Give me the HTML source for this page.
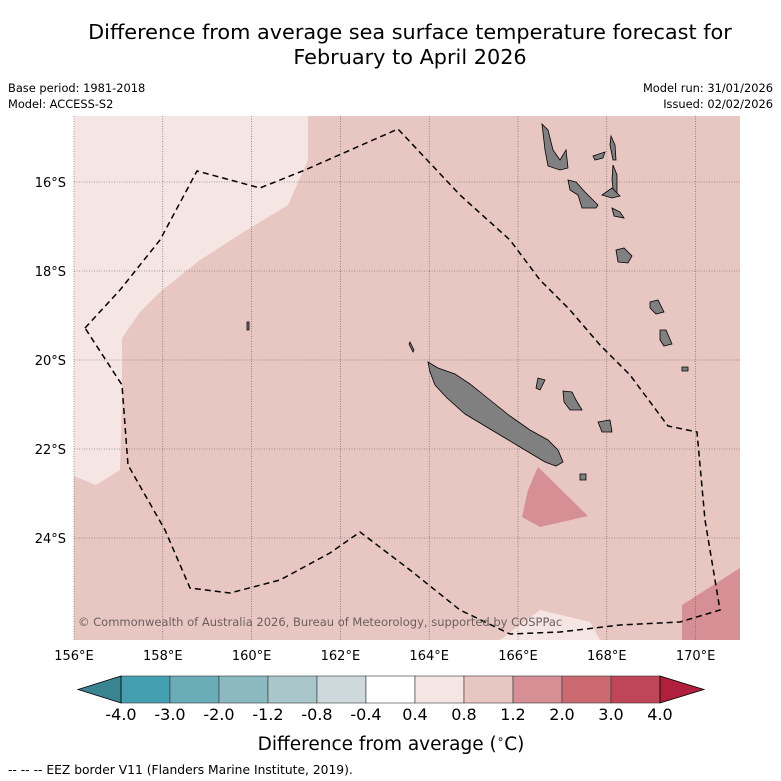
<!DOCTYPE html>
<html><head><meta charset="utf-8"><style>
body{margin:0;background:#fff;font-family:"Liberation Sans","DejaVu Sans",sans-serif}
#wrap{position:relative;width:781px;height:781px;overflow:hidden}
.t{position:absolute;color:#000}
</style></head><body>
<div id="wrap">
<div class="t" style="left:0;width:820px;top:20px;text-align:center;font-size:20.8px;line-height:25px;font-family:'DejaVu Sans',sans-serif">Difference from average sea surface temperature forecast for<br>February to April 2026</div>
<div class="t" style="left:8px;top:80px;font-size:11.4px;line-height:16px;font-family:'DejaVu Sans',sans-serif">Base period: 1981-2018<br>Model: ACCESS-S2</div>
<div class="t" style="right:8px;top:80px;font-size:11.4px;line-height:16px;text-align:right;font-family:'DejaVu Sans',sans-serif">Model run: 31/01/2026<br>Issued: 02/02/2026</div>
<svg id="svg" width="781" height="781" style="position:absolute;left:0;top:0" font-family="DejaVu Sans, sans-serif">
<g>
<rect x="74" y="116" width="666" height="524" fill="#e8c7c2"/>
<polygon fill="#f5e6e4" points="74,116 308,116 308,160 288,205 250,228 200,260 160,292 140,312 122,338 122,400 120,470 96,485 74,476"/>
<polygon fill="#f5e6e4" points="500,640 540,610 590,622 600,640"/>
<polygon fill="#d68f95" points="538,467 588,516 540,527 522,517 528,490"/>
<polygon fill="#d68f95" points="682,605 740,568 740,640 682,640"/>
<g id="grid"></g>
<g fill="#808080" stroke="#000" stroke-width="0.8">
<polygon points="428,362 438,368 455,374 470,384 490,400 510,416 530,430 548,440 558,450 563,462 556,466 545,462 525,450 505,438 485,426 465,414 447,398 435,385 430,372"/>
<polygon points="542,124 548,130 553,150 560,160 566,150 568,168 560,170 548,166 545,150"/>
<polygon points="568,180 576,182 585,192 598,205 596,208 582,208 578,195 570,190"/>
<polygon points="593,156 605,152 603,158 595,160"/>
<polygon points="611,136 615,145 616,160 613,160 610,145"/>
<polygon points="613,165 617,175 617,196 614,196 612,180"/>
<polygon points="602,195 612,188 620,196 612,198"/>
<polygon points="612,208 620,212 624,218 614,216"/>
<polygon points="616,250 624,248 632,256 628,263 618,262"/>
<polygon points="650,302 658,300 664,312 656,314 650,308"/>
<polygon points="660,330 666,330 672,344 664,346 660,340"/>
<polygon points="682,367 688,367 688,371 682,371"/>
<polygon points="563,391 572,392 576,400 582,410 570,410 564,402"/>
<polygon points="598,422 610,420 612,432 602,432"/>
<polygon points="580,474 586,474 586,480 580,480"/>
<polygon points="247,322 249,322 249,330 247,330"/>
<polygon points="538,378 545,380 540,390 536,388"/>
<polygon points="410,342 414,350 413,352 409,344"/>
</g>
<path fill="none" stroke="#000" stroke-width="1.5" stroke-dasharray="6,4" d="M85,328 L120,290 160,240 197,171 260,188 305,170 398,129 460,195 510,240 540,280 570,310 600,345 630,375 668,426 697,432 705,520 720,610 680,622 620,625 560,632 510,634 460,610 410,570 360,532 330,553 280,580 230,593 190,588 165,530 128,465 122,385 Z"/>
<text x="78" y="626" font-size="11.5" fill="#6b5f5e">© Commonwealth of Australia 2026, Bureau of Meteorology, supported by COSPPac</text>
</g>
<g id="axes"></g>
<g id="cbar"></g>
<text x="391" y="750" font-size="18.5" text-anchor="middle">Difference from average (<tspan font-size="12" dy="-7">∘</tspan><tspan dy="7">C)</tspan></text>
<text x="8" y="774" font-size="12.3">--  --  -- EEZ border V11 (Flanders Marine Institute, 2019).</text>
</svg>
</div>
<script>
const lonTicks=[156,158,160,162,164,166,168,170];
const latTicks=[16,18,20,22,24];
const cbBounds=[-4.0,-3.0,-2.0,-1.2,-0.8,-0.4,0.4,0.8,1.2,2.0,3.0,4.0];
const cbColors=["#449fb0","#6aadb9","#8cb8c2","#a9c7cb","#cdd9dc","#ffffff","#f5e6e4","#e8c7c2","#d68f95","#cc6a72","#bf4657"];
const NS="http://www.w3.org/2000/svg";
const X0=74,X1=740,Y0=116,Y1=640;
const xOf=lon=>74+(lon-156)*44.4;
const yOf=lat=>182+(lat-16)*44.5;
function mk(t,a,p){const e=document.createElementNS(NS,t);for(const k in a)e.setAttribute(k,a[k]);p.appendChild(e);return e;}
const grid=document.getElementById('grid'),axes=document.getElementById('axes'),cb=document.getElementById('cbar');
lonTicks.forEach(v=>{const x=xOf(v);
 const l=mk('line',{x1:x,x2:x,y1:Y0,y2:Y1,stroke:'#555','stroke-width':0.6,'stroke-dasharray':'1,1.5'},grid);
 
 
 const t=mk('text',{x:x,y:660,'font-size':13,'text-anchor':'middle'},axes);t.textContent=v+'°E';
 
 });
latTicks.forEach(v=>{const y=yOf(v);
 const l=mk('line',{x1:X0,x2:X1,y1:y,y2:y,stroke:'#555','stroke-width':0.6,'stroke-dasharray':'1,1.5'},grid);
 
 
 const t=mk('text',{x:66,y:y+5,'font-size':13,'text-anchor':'end'},axes);t.textContent=v+'°S';
 
 });
const CB0=121,CB1=660,CY=676,CH=27,n=cbColors.length,w=(CB1-CB0)/n;
cbColors.forEach((c,i)=>{const r=mk('rect',{x:CB0+i*w,y:CY,width:w,height:CH,fill:c,stroke:'#333','stroke-width':0.6},cb);
 
 });
const lt=mk('polygon',{points:`${CB0},${CY} 78,${CY+CH/2} ${CB0},${CY+CH}`,fill:'#3a8391',stroke:'#000','stroke-width':0.8},cb);


const rt=mk('polygon',{points:`${CB1},${CY} 704,${CY+CH/2} ${CB1},${CY+CH}`,fill:'#b01f3d',stroke:'#000','stroke-width':0.8},cb);


cbBounds.forEach((v,i)=>{const t=mk('text',{x:CB0+i*w,y:720,'font-size':16,'text-anchor':'middle'},cb);t.textContent=v.toFixed(1);
 
 });
</script>
</body></html>
